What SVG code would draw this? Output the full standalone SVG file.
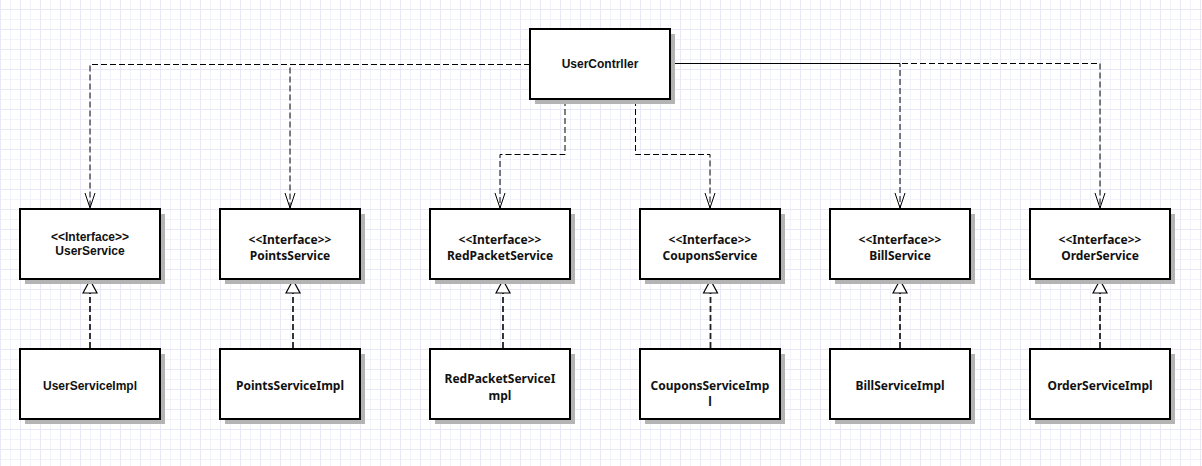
<svg xmlns="http://www.w3.org/2000/svg" width="1202" height="466" viewBox="0 0 1202 466">
<style>
.box{fill:#fff;stroke:#000;stroke-width:2}
.shadow{fill:#b4b4b4}
.t{font-family:"Noto Sans","DejaVu Sans",sans-serif;font-weight:bold;font-size:12px;fill:#111;text-anchor:middle}
.ta{font-family:"Liberation Sans",Arial,sans-serif;font-weight:bold;font-size:12px;fill:#111;text-anchor:middle}
.dep{fill:none;stroke:#000;stroke-width:1;stroke-dasharray:6 3;marker-end:url(#open)}
.real{fill:none;stroke:#222;stroke-width:1.8;stroke-dasharray:6 3;marker-end:url(#tri)}
</style>
<defs>
<pattern id="grid" width="20" height="20" x="0" y="9" patternUnits="userSpaceOnUse">
<path d="M10.5,0V20M0,10.5H20" stroke="#f2f2fb" stroke-width="1" fill="none"/>
<path d="M0.5,0V20M0,0.5H20" stroke="#e8e8f7" stroke-width="1" fill="none"/>
</pattern>
<marker id="open" markerUnits="userSpaceOnUse" markerWidth="18" markerHeight="12" refX="15" refY="5.5" orient="auto" overflow="visible">
<path d="M0,0.5 L15,5.5 L0,10.5" fill="none" stroke="#000" stroke-width="1" stroke-dasharray="none"/>
</marker>
<marker id="tri" markerUnits="userSpaceOnUse" markerWidth="16" markerHeight="16" refX="13" refY="7" orient="auto" overflow="visible">
<path d="M0,0 L13,7 L0,14 Z" fill="#fff" stroke="#000" stroke-width="1.2" stroke-dasharray="none"/>
</marker>
</defs>
<rect width="1202" height="466" fill="#fff"/>
<rect width="1202" height="466" fill="url(#grid)"/>

<g id="connectors">
<path class="dep" d="M530,64.5 H90 V208"/>
<path class="dep" d="M530,64.5 H290 V208"/>
<path class="dep" d="M565,100 V154.5 H500 V208"/>
<path class="dep" d="M635.5,100 V154.5 H710 V208"/>
<path class="dep" d="M668,63.5 H900 V208" style="stroke-dashoffset:4.5"/>
<path class="dep" d="M668,63.5 H1100 V208"/>
<path class="real" d="M90,348 V280"/>
<path class="real" d="M293,348 V280"/>
<path class="real" d="M503,348 V280"/>
<path class="real" d="M710.5,348 V280"/>
<path class="real" d="M900,348 V280"/>
<path class="real" d="M1100,348 V280"/>
</g>

<g id="UserContrller">
<rect class="shadow" x="535" y="34" width="140" height="70"/>
<rect class="box" x="530" y="29" width="140" height="70"/>
<text class="ta" x="600" y="67.5">UserContrller</text>
</g>

<g id="UserService">
<rect class="shadow" x="25" y="214" width="140" height="70"/>
<rect class="box" x="20" y="209" width="140" height="70"/>
<text class="ta" x="90" y="241">&lt;&lt;Interface&gt;&gt;</text>
<text class="ta" x="90" y="255">UserService</text>
</g>
<g id="PointsService">
<rect class="shadow" x="225" y="214" width="140" height="70"/>
<rect class="box" x="220" y="209" width="140" height="70"/>
<text class="t" x="290" y="243.5">&lt;&lt;Interface&gt;&gt;</text>
<text class="t" x="290" y="260">PointsService</text>
</g>
<g id="RedPacketService">
<rect class="shadow" x="435" y="214" width="140" height="70"/>
<rect class="box" x="430" y="209" width="140" height="70"/>
<text class="t" x="500" y="243.5">&lt;&lt;Interface&gt;&gt;</text>
<text class="t" x="500" y="260">RedPacketService</text>
</g>
<g id="CouponsService">
<rect class="shadow" x="645" y="214" width="140" height="70"/>
<rect class="box" x="640" y="209" width="140" height="70"/>
<text class="t" x="710" y="243.5">&lt;&lt;Interface&gt;&gt;</text>
<text class="t" x="710" y="260">CouponsService</text>
</g>
<g id="BillService">
<rect class="shadow" x="835" y="214" width="140" height="70"/>
<rect class="box" x="830" y="209" width="140" height="70"/>
<text class="t" x="900" y="243.5">&lt;&lt;Interface&gt;&gt;</text>
<text class="t" x="900" y="260">BillService</text>
</g>
<g id="OrderService">
<rect class="shadow" x="1035" y="214" width="140" height="70"/>
<rect class="box" x="1030" y="209" width="140" height="70"/>
<text class="t" x="1100" y="243.5">&lt;&lt;Interface&gt;&gt;</text>
<text class="t" x="1100" y="260">OrderService</text>
</g>

<g id="UserServiceImpl">
<rect class="shadow" x="25" y="354" width="140" height="70"/>
<rect class="box" x="20" y="349" width="140" height="70"/>
<text class="ta" x="90" y="390">UserServiceImpl</text>
</g>
<g id="PointsServiceImpl">
<rect class="shadow" x="225" y="354" width="140" height="70"/>
<rect class="box" x="220" y="349" width="140" height="70"/>
<text class="t" x="290" y="390">PointsServiceImpl</text>
</g>
<g id="RedPacketServiceImpl">
<rect class="shadow" x="435" y="354" width="140" height="70"/>
<rect class="box" x="430" y="349" width="140" height="70"/>
<text class="t" x="500" y="382.5">RedPacketServiceI</text>
<text class="t" x="500" y="399.5">mpl</text>
</g>
<g id="CouponsServiceImpl">
<rect class="shadow" x="645" y="354" width="140" height="70"/>
<rect class="box" x="640" y="349" width="140" height="70"/>
<text class="t" x="710" y="389.5">CouponsServiceImp</text>
<text class="t" x="710" y="406">l</text>
</g>
<g id="BillServiceImpl">
<rect class="shadow" x="835" y="354" width="140" height="70"/>
<rect class="box" x="830" y="349" width="140" height="70"/>
<text class="t" x="900" y="390">BillServiceImpl</text>
</g>
<g id="OrderServiceImpl">
<rect class="shadow" x="1035" y="354" width="140" height="70"/>
<rect class="box" x="1030" y="349" width="140" height="70"/>
<text class="t" x="1100" y="390">OrderServiceImpl</text>
</g>
</svg>
